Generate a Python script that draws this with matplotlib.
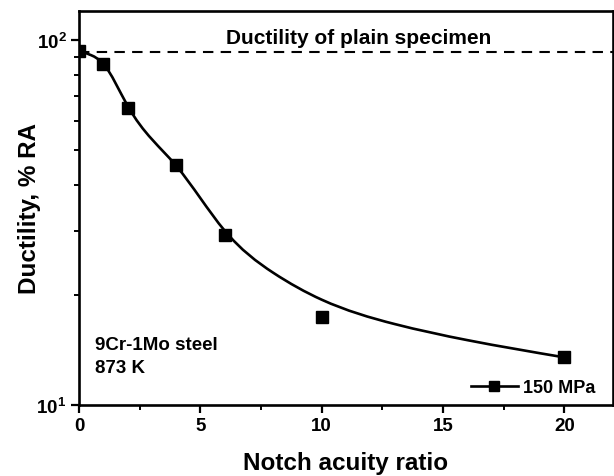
import matplotlib
matplotlib.use("Agg")
import numpy as np
import matplotlib.pyplot as plt
from matplotlib.path import Path
from matplotlib.patches import PathPatch
from matplotlib.ticker import LogLocator, NullFormatter, MultipleLocator

plt.rcParams['font.family'] = ['Liberation Sans', 'DejaVu Sans']
plt.rcParams['font.weight'] = 'bold'
plt.rcParams['mathtext.fontset'] = 'custom'
plt.rcParams['mathtext.rm'] = 'Liberation Sans:bold'
plt.rcParams['mathtext.bf'] = 'Liberation Sans:bold'

# Measured ductility vs notch acuity ratio (150 MPa)
acuity = [0, 1, 2, 4, 6, 10, 20]
ductility = [93.5, 86, 65, 45.5, 29.2, 17.4, 13.5]

# Fitted trend line (knots of the smooth fit)
fit_x = [0, 0.5, 1, 2, 4, 6, 8, 10, 13, 16, 20]
fit_y = [93.3, 90.8, 86.0, 66.0, 45.2, 30.0, 23.0, 19.4, 16.64, 15.03, 13.48]

plain_ductility = 92.5

x_ticks = [0, 5, 10, 15, 20]
y_ticks = [10, 100]
y_tick_labels = [r'$10^{1}$', r'$10^{2}$']


def smooth_log_path(xs, ys):
    """Natural cubic spline through the knots in x / log10(y) space,
    written out as exact Bezier segments."""
    xs = np.asarray(xs, float)
    ly = np.log10(np.asarray(ys, float))
    n = len(xs)
    h = np.diff(xs)
    # solve for second derivatives (natural end conditions)
    A = np.zeros((n, n))
    r = np.zeros(n)
    A[0, 0] = A[-1, -1] = 1.0
    for i in range(1, n - 1):
        A[i, i - 1] = h[i - 1]
        A[i, i] = 2 * (h[i - 1] + h[i])
        A[i, i + 1] = h[i]
        r[i] = 6 * ((ly[i + 1] - ly[i]) / h[i] - (ly[i] - ly[i - 1]) / h[i - 1])
    M = np.linalg.solve(A, r)
    verts = [(xs[0], 10 ** ly[0])]
    codes = [Path.MOVETO]
    for i in range(n - 1):
        s = (ly[i + 1] - ly[i]) / h[i]
        m0 = s - h[i] * (2 * M[i] + M[i + 1]) / 6
        m1 = s + h[i] * (M[i] + 2 * M[i + 1]) / 6
        c1 = (xs[i] + h[i] / 3, 10 ** (ly[i] + m0 * h[i] / 3))
        c2 = (xs[i + 1] - h[i] / 3, 10 ** (ly[i + 1] - m1 * h[i] / 3))
        verts += [c1, c2, (xs[i + 1], 10 ** ly[i + 1])]
        codes += [Path.CURVE4] * 3
    return Path(verts, codes)


fig = plt.figure(figsize=(6.14, 4.77), dpi=100)
ax = fig.add_axes([0.1287, 0.1495, 0.8697, 0.8253])

ax.set_yscale('log')
ax.set_xlim(0, 22)
ax.set_ylim(10, 120)

ax.add_patch(PathPatch(smooth_log_path(fit_x, fit_y), fill=False, edgecolor='black',
                       lw=1.9, zorder=2))
ax.plot(acuity, ductility, linestyle='none', marker='s', ms=8.5, color='black', zorder=3)
ax.axhline(plain_ductility, color='black', lw=1.5, dashes=(5, 3.5), zorder=1)

# legend proxy: line with square marker
ax.plot([], [], color='black', lw=1.9, marker='s', ms=7, label='150 MPa')
ax.legend(loc='lower right', bbox_to_anchor=(0.989, -0.008), frameon=False, fontsize=13,
          handlelength=2.6, handletextpad=0.3, borderaxespad=0.25)

ax.set_xticks(x_ticks)
ax.xaxis.set_minor_locator(MultipleLocator(2.5))
ax.set_yticks(y_ticks, labels=y_tick_labels)
ax.yaxis.set_minor_locator(LogLocator(base=10, subs=range(2, 10)))
ax.yaxis.set_minor_formatter(NullFormatter())

ax.tick_params(which='major', direction='out', length=6, width=1.6, labelsize=13.5, pad=3)
ax.tick_params(which='minor', direction='out', length=3.6, width=1.4)
for lab in ax.get_xticklabels():
    lab.set_fontweight('bold')

for sp in ax.spines.values():
    sp.set_linewidth(1.9)

ax.set_xlabel('Notch acuity ratio', fontsize=17.5, fontweight='bold', labelpad=12)
ax.set_ylabel('Ductility, % RA', fontsize=17.5, fontweight='bold', labelpad=-3)

ax.text(0.524, 0.934, 'Ductility of plain specimen', transform=ax.transAxes,
        ha='center', va='center', fontsize=15, fontweight='bold')
ax.text(0.03, 0.124, '9Cr-1Mo steel\n873 K', transform=ax.transAxes,
        ha='left', va='center', fontsize=13.5, fontweight='bold', linespacing=1.5)

fig.savefig('out.png', dpi=100)
